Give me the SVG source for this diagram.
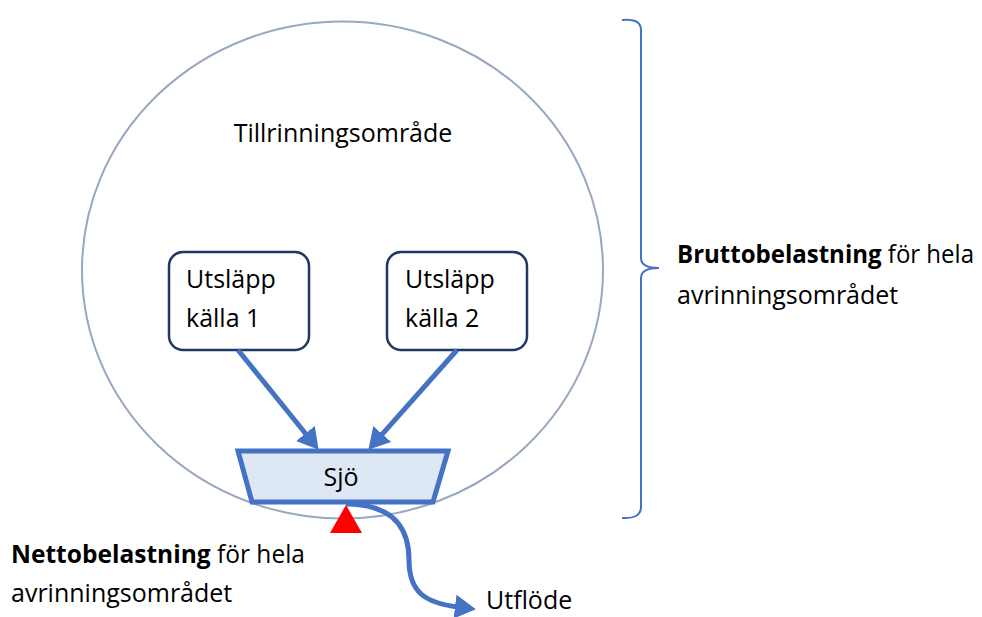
<svg xmlns="http://www.w3.org/2000/svg" width="982" height="617" viewBox="0 0 982 617">
<defs>
<style>
text{font-family:"Open Sans","Noto Sans","Liberation Sans",sans-serif;font-size:25px;fill:#000}
.b{font-weight:bold}
.box{fill:#fff;stroke:#1F3864;stroke-width:2.5}
.con{fill:none;stroke:#4472C4;stroke-width:5}
</style>
<marker id="ah" markerUnits="userSpaceOnUse" markerWidth="22" markerHeight="24" refX="3" refY="12" orient="auto">
<path d="M0,0 L21,12 L0,24 z" fill="#4472C4"/>
</marker>
</defs>
<g id="catchment">
<ellipse cx="342.5" cy="270" rx="260.5" ry="248.5" fill="none" stroke="#97A8C0" stroke-width="2"/>
<text x="343" y="142" text-anchor="middle">Tillrinningsområde</text>
</g>
<g id="kalla1">
<rect class="box" x="169" y="252" width="140" height="98" rx="14"/>
<text x="186" y="288">Utsläpp</text>
<text x="186" y="327">källa 1</text>
</g>
<g id="kalla2">
<rect class="box" x="387" y="252" width="140" height="98" rx="14"/>
<text x="405" y="288">Utsläpp</text>
<text x="405" y="327">källa 2</text>
</g>
<g id="connectors">
<line class="con" x1="238" y1="350" x2="307.3" y2="435.8" marker-end="url(#ah)"/>
<line class="con" x1="457" y1="350" x2="380.3" y2="436.3" marker-end="url(#ah)"/>
<path class="con" d="M346 504 C395 504 409 530 409 560 C409 592 425 603 458 607" marker-end="url(#ah)"/>
</g>
<g id="sjo">
<polygon points="238,451 448,451 433,502 252,502" fill="#DEE7F4" stroke="#4472C4" stroke-width="5" stroke-linejoin="miter"/>
<text x="341" y="486" text-anchor="middle">Sjö</text>
</g>
<g id="netto-marker">
<polygon points="346,505 330,533 362,533" fill="#FF0000"/>
</g>
<g id="brutto-bracket">
<path d="M622 20 Q641 18 641 30 L641 258 Q641 268 659 268 Q641 268 641 278 L641 507 Q641 519 622 518" fill="none" stroke="#4472C4" stroke-width="2"/>
</g>
<g id="brutto-label">
<text x="677" y="263" textLength="297" lengthAdjust="spacingAndGlyphs"><tspan class="b">Bruttobelastning</tspan> för hela</text>
<text x="677" y="304">avrinningsområdet</text>
</g>
<g id="netto-label">
<text x="11" y="563" textLength="294" lengthAdjust="spacingAndGlyphs"><tspan class="b">Nettobelastning</tspan> för hela</text>
<text x="11" y="602">avrinningsområdet</text>
</g>
<g id="utflode">
<text x="486" y="609">Utflöde</text>
</g>
</svg>
